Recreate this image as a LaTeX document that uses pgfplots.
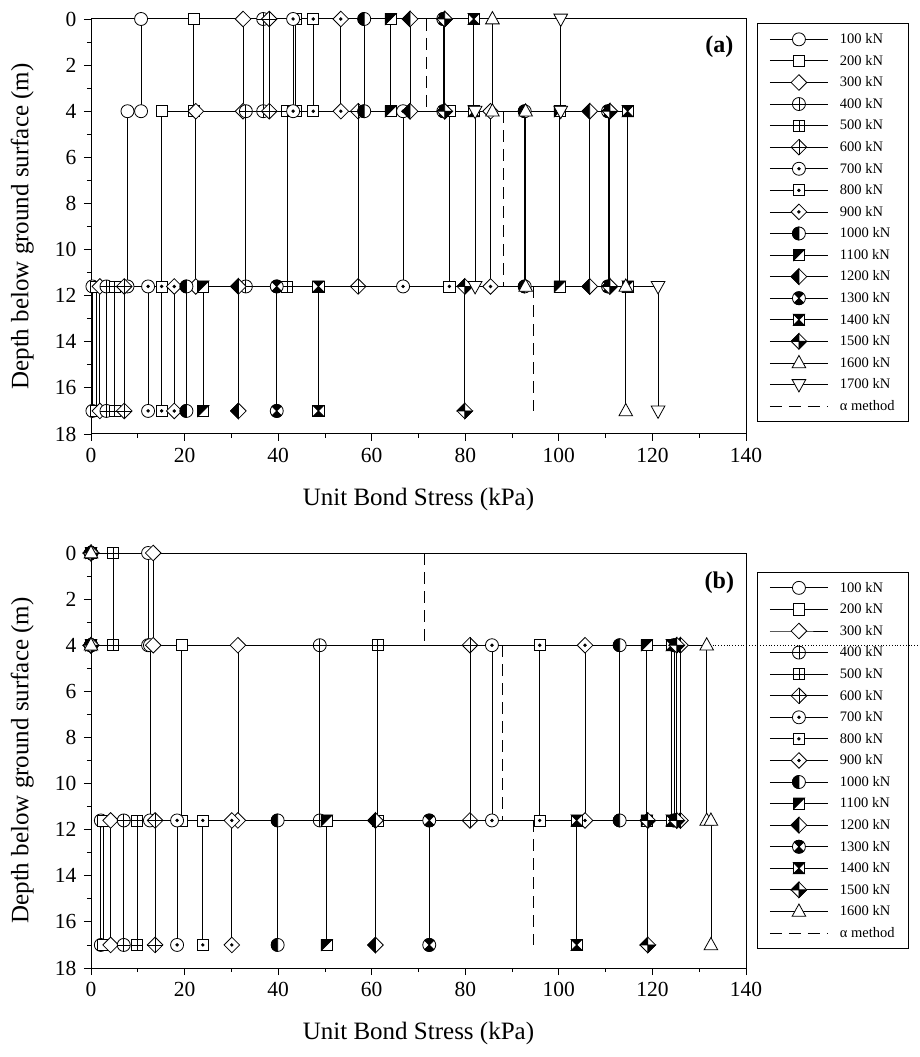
\documentclass[border=0pt]{standalone}
\usepackage{fontspec}
\setmainfont{Liberation Serif}
\usepackage{pgfplots}
\pgfplotsset{compat=1.18}

\newcommand{\mkcircle}{\pgfpathcircle{\pgfpointorigin}{\pgfplotmarksize}}
\newcommand{\mksquare}{\pgfpathrectangle{\pgfpoint{-0.85\pgfplotmarksize}{-0.85\pgfplotmarksize}}{\pgfpoint{1.7\pgfplotmarksize}{1.7\pgfplotmarksize}}}
\newcommand{\mkdiamond}{\pgfpathmoveto{\pgfpoint{0pt}{1.2\pgfplotmarksize}}\pgfpathlineto{\pgfpoint{1.2\pgfplotmarksize}{0pt}}\pgfpathlineto{\pgfpoint{0pt}{-1.2\pgfplotmarksize}}\pgfpathlineto{\pgfpoint{-1.2\pgfplotmarksize}{0pt}}\pgfpathclose}
\newcommand{\mkplus}[1]{\pgfpathmoveto{\pgfpoint{-#1\pgfplotmarksize}{0pt}}\pgfpathlineto{\pgfpoint{#1\pgfplotmarksize}{0pt}}\pgfpathmoveto{\pgfpoint{0pt}{-#1\pgfplotmarksize}}\pgfpathlineto{\pgfpoint{0pt}{#1\pgfplotmarksize}}\pgfusepathqstroke}
\newcommand{\blk}[1]{\pgfscope\pgfsetfillcolor{black}#1\pgfusepathqfillstroke\endpgfscope}
\newcommand{\mkdot}{\blk{\pgfpathcircle{\pgfpointorigin}{0.2\pgfplotmarksize}}}

\pgfdeclareplotmark{m100}{\mkcircle\pgfusepathqfillstroke}
\pgfdeclareplotmark{m200}{\mksquare\pgfusepathqfillstroke}
\pgfdeclareplotmark{m300}{\mkdiamond\pgfusepathqfillstroke}
\pgfdeclareplotmark{m400}{\mkcircle\pgfusepathqfillstroke\mkplus{1}}
\pgfdeclareplotmark{m500}{\mksquare\pgfusepathqfillstroke\mkplus{0.85}}
\pgfdeclareplotmark{m600}{\mkdiamond\pgfusepathqfillstroke\mkplus{1.2}}
\pgfdeclareplotmark{m700}{\mkcircle\pgfusepathqfillstroke\mkdot}
\pgfdeclareplotmark{m800}{\mksquare\pgfusepathqfillstroke\mkdot}
\pgfdeclareplotmark{m900}{\mkdiamond\pgfusepathqfillstroke\mkdot}
\pgfdeclareplotmark{m1000}{\mkcircle\pgfusepathqfillstroke
  \blk{\pgfpathmoveto{\pgfpoint{0pt}{\pgfplotmarksize}}\pgfpatharc{90}{270}{\pgfplotmarksize}\pgfpathclose}}
\pgfdeclareplotmark{m1100}{\mksquare\pgfusepathqfillstroke
  \blk{\pgfpathmoveto{\pgfpoint{0.85\pgfplotmarksize}{0.85\pgfplotmarksize}}\pgfpathlineto{\pgfpoint{-0.85\pgfplotmarksize}{-0.85\pgfplotmarksize}}\pgfpathlineto{\pgfpoint{-0.85\pgfplotmarksize}{0.85\pgfplotmarksize}}\pgfpathclose}}
\pgfdeclareplotmark{m1200}{\mkdiamond\pgfusepathqfillstroke
  \blk{\pgfpathmoveto{\pgfpoint{0pt}{1.2\pgfplotmarksize}}\pgfpathlineto{\pgfpoint{-1.2\pgfplotmarksize}{0pt}}\pgfpathlineto{\pgfpoint{0pt}{-1.2\pgfplotmarksize}}\pgfpathclose}}
\pgfdeclareplotmark{m1300}{\mkcircle\pgfusepathqfillstroke
  \blk{\pgfpathmoveto{\pgfpointorigin}\pgfpathlineto{\pgfpointpolar{45}{\pgfplotmarksize}}\pgfpatharc{45}{135}{\pgfplotmarksize}\pgfpathclose
       \pgfpathmoveto{\pgfpointorigin}\pgfpathlineto{\pgfpointpolar{225}{\pgfplotmarksize}}\pgfpatharc{225}{315}{\pgfplotmarksize}\pgfpathclose}}
\pgfdeclareplotmark{m1400}{\mksquare\pgfusepathqfillstroke
  \blk{\pgfpathmoveto{\pgfpointorigin}\pgfpathlineto{\pgfpoint{-0.85\pgfplotmarksize}{0.85\pgfplotmarksize}}\pgfpathlineto{\pgfpoint{0.85\pgfplotmarksize}{0.85\pgfplotmarksize}}\pgfpathclose
       \pgfpathmoveto{\pgfpointorigin}\pgfpathlineto{\pgfpoint{-0.85\pgfplotmarksize}{-0.85\pgfplotmarksize}}\pgfpathlineto{\pgfpoint{0.85\pgfplotmarksize}{-0.85\pgfplotmarksize}}\pgfpathclose}}
\pgfdeclareplotmark{m1500}{\mkdiamond\pgfusepathqfillstroke
  \blk{\pgfpathmoveto{\pgfpointorigin}\pgfpathlineto{\pgfpoint{0pt}{1.2\pgfplotmarksize}}\pgfpathlineto{\pgfpoint{-1.2\pgfplotmarksize}{0pt}}\pgfpathclose
       \pgfpathmoveto{\pgfpointorigin}\pgfpathlineto{\pgfpoint{0pt}{-1.2\pgfplotmarksize}}\pgfpathlineto{\pgfpoint{1.2\pgfplotmarksize}{0pt}}\pgfpathclose}}
\pgfdeclareplotmark{m1600}{\pgfpathmoveto{\pgfpoint{0pt}{1.15\pgfplotmarksize}}\pgfpathlineto{\pgfpoint{1.05\pgfplotmarksize}{-0.75\pgfplotmarksize}}\pgfpathlineto{\pgfpoint{-1.05\pgfplotmarksize}{-0.75\pgfplotmarksize}}\pgfpathclose\pgfusepathqfillstroke}
\pgfdeclareplotmark{m1700}{\pgfpathmoveto{\pgfpoint{0pt}{-1.15\pgfplotmarksize}}\pgfpathlineto{\pgfpoint{1.05\pgfplotmarksize}{0.75\pgfplotmarksize}}\pgfpathlineto{\pgfpoint{-1.05\pgfplotmarksize}{0.75\pgfplotmarksize}}\pgfpathclose\pgfusepathqfillstroke}

\pgfplotsset{
 panel/.style={
  scale only axis, width=655pt, height=415pt,
  xmin=0, xmax=140, ymin=0, ymax=18, y dir=reverse,
  xtick={0,20,...,140}, ytick={0,2,...,18},
  minor x tick num=1, minor y tick num=1,
  tick align=outside, tick pos=left,
  major tick length=7pt, minor tick length=4pt,
  every tick/.style={black, line width=0.8pt},
  axis line style={line width=1pt},
  tick label style={font=\fontsize{21.5}{24}\selectfont},
  xticklabel style={yshift=-4pt},
  yticklabel style={xshift=-4pt},
  every axis x label/.style={at={(0.5,-0.157)}, anchor=center, font=\fontsize{25}{29}\selectfont},
  every axis y label/.style={at={(-0.105,0.5)}, anchor=center, rotate=90, font=\fontsize{25}{29}\selectfont},
  /pgf/number format/assume math mode=true,
  xlabel={Unit Bond Stress (kPa)}, ylabel={Depth below ground surface (m)},
  clip=false,
  legend cell align=left,
  legend style={anchor=north west, draw=black, fill=none, font=\fontsize{14.5}{16}\selectfont,
     row sep=6pt, inner xsep=12pt, inner ysep=8pt, line width=0.8pt},
  legend image code/.code={\draw[mark repeat=2,mark phase=2] plot coordinates {(0pt,0pt) (29pt,0pt) (58pt,0pt)};\path[draw=none,fill=none] (0pt,0pt) rectangle (68pt,0.1pt);},
  every axis plot/.append style={black, line width=0.8pt, mark size=6.5pt, mark options={fill=white, solid}},
 },
 alpha/.style={black, line width=0.8pt, dash pattern=on 12pt off 7pt, mark=none},
}

\begin{document}
\begin{tikzpicture}
\path[use as bounding box] (0pt,0pt) rectangle (920pt,1057pt);

% ---------------- panel (a)
\begin{axis}[panel, at={(91pt,623pt)}, anchor=south west,
  legend style={at={(1.017,0.99)}}]
\addplot[mark=m100] coordinates {(10.7,0) (10.7,4) (7.8,4) (7.8,11.6) (0.3,11.6) (0.3,17)};
\addlegendentry{100 kN}
\addplot[mark=m200] coordinates {(21.9,0) (21.9,4) (15.1,4) (15.1,11.6) (1.1,11.6) (1.1,17)};
\addlegendentry{200 kN}
\addplot[mark=m300] coordinates {(32.5,0) (32.5,4) (22.4,4) (22.4,11.6) (1.9,11.6) (1.9,17)};
\addlegendentry{300 kN}
\addplot[mark=m400] coordinates {(36.8,0) (36.8,4) (33.1,4) (33.1,11.6) (3.3,11.6) (3.3,17)};
\addlegendentry{400 kN}
\addplot[mark=m500] coordinates {(43.7,0) (43.7,4) (41.9,4) (41.9,11.6) (5.1,11.6) (5.1,17)};
\addlegendentry{500 kN}
\addplot[mark=m600] coordinates {(38.1,0) (38.1,4) (57.1,4) (57.1,11.6) (7.1,11.6) (7.1,17)};
\addlegendentry{600 kN}
\addplot[mark=m700] coordinates {(43.2,0) (43.2,4) (66.7,4) (66.7,11.6) (12.2,11.6) (12.2,17)};
\addlegendentry{700 kN}
\addplot[mark=m800] coordinates {(47.5,0) (47.5,4) (76.6,4) (76.6,11.6) (15.1,11.6) (15.1,17)};
\addlegendentry{800 kN}
\addplot[mark=m900] coordinates {(53.4,0) (53.4,4) (85.4,4) (85.4,11.6) (17.8,11.6) (17.8,17)};
\addlegendentry{900 kN}
\addplot[mark=m1000] coordinates {(58.4,0) (58.4,4) (92.7,4) (92.7,11.6) (20.4,11.6) (20.4,17)};
\addlegendentry{1000 kN}
\addplot[mark=m1100] coordinates {(64.1,0) (64.1,4) (100.2,4) (100.2,11.6) (24.0,11.6) (24.0,17)};
\addlegendentry{1100 kN}
\addplot[mark=m1200] coordinates {(68.2,0) (68.2,4) (106.6,4) (106.6,11.6) (31.5,11.6) (31.5,17)};
\addlegendentry{1200 kN}
\addplot[mark=m1300] coordinates {(75.3,0) (75.3,4) (110.5,4) (110.5,11.6) (39.7,11.6) (39.7,17)};
\addlegendentry{1300 kN}
\addplot[mark=m1400] coordinates {(81.8,0) (81.8,4) (114.7,4) (114.7,11.6) (48.6,11.6) (48.6,17)};
\addlegendentry{1400 kN}
\addplot[mark=m1500] coordinates {(75.6,0) (75.6,4) (110.9,4) (110.9,11.6) (79.9,11.6) (79.9,17)};
\addlegendentry{1500 kN}
\addplot[mark=m1600] coordinates {(85.8,0) (85.8,4) (92.9,4) (92.9,11.6) (114.3,11.6) (114.3,17)};
\addlegendentry{1600 kN}
\addplot[mark=m1700] coordinates {(100.4,0) (100.4,4) (82.1,4) (82.1,11.6) (121.2,11.6) (121.2,17)};
\addlegendentry{1700 kN}
\addplot[alpha] coordinates {(71.7,0) (71.7,4)};
\addlegendentry{α method}
\addplot[alpha, forget plot] coordinates {(88.1,4) (88.1,11.6)};
\addplot[alpha, forget plot] coordinates {(94.5,11.6) (94.5,17)};
\node[font=\bfseries\fontsize{24}{28}\selectfont] at (axis cs:134.3,1.2) {(a)};
\end{axis}

% ---------------- panel (b)
\begin{axis}[panel, at={(91pt,89pt)}, anchor=south west,
  legend style={at={(1.017,0.955)}}]
\draw[dotted, line width=0.8pt] (axis cs:0,4) -- (axis cs:179,4);
\addplot[mark=m100] coordinates {(12.2,0) (12.2,4) (12.6,4) (12.6,11.6) (2.1,11.6) (2.1,17)};
\addlegendentry{100 kN}
\addplot[mark=m200] coordinates {(4.7,0) (4.7,4) (19.4,4) (19.4,11.6) (2.6,11.6) (2.6,17)};
\addlegendentry{200 kN}
\addplot[mark=m300] coordinates {(13.3,0) (13.3,4) (31.4,4) (31.4,11.6) (4.2,11.6) (4.2,17)};
\addlegendentry{300 kN}
\addplot[mark=m400] coordinates {(0,0) (0,4) (48.9,4) (48.9,11.6) (7.0,11.6) (7.0,17)};
\addlegendentry{400 kN}
\addplot[mark=m500] coordinates {(4.7,0) (4.7,4) (61.3,4) (61.3,11.6) (9.9,11.6) (9.9,17)};
\addlegendentry{500 kN}
\addplot[mark=m600] coordinates {(0,0) (0,4) (81.0,4) (81.0,11.6) (13.7,11.6) (13.7,17)};
\addlegendentry{600 kN}
\addplot[mark=m700] coordinates {(0,0) (0,4) (85.7,4) (85.7,11.6) (18.4,11.6) (18.4,17)};
\addlegendentry{700 kN}
\addplot[mark=m800] coordinates {(0,0) (0,4) (95.9,4) (95.9,11.6) (23.9,11.6) (23.9,17)};
\addlegendentry{800 kN}
\addplot[mark=m900] coordinates {(0,0) (0,4) (105.6,4) (105.6,11.6) (30.1,11.6) (30.1,17)};
\addlegendentry{900 kN}
\addplot[mark=m1000] coordinates {(0,0) (0,4) (113.0,4) (113.0,11.6) (39.9,11.6) (39.9,17)};
\addlegendentry{1000 kN}
\addplot[mark=m1100] coordinates {(0,0) (0,4) (118.8,4) (118.8,11.6) (50.4,11.6) (50.4,17)};
\addlegendentry{1100 kN}
\addplot[mark=m1200] coordinates {(0,0) (0,4) (126.0,4) (126.0,11.6) (60.8,11.6) (60.8,17)};
\addlegendentry{1200 kN}
\addplot[mark=m1300] coordinates {(0,0) (0,4) (124.6,4) (124.6,11.6) (72.3,11.6) (72.3,17)};
\addlegendentry{1300 kN}
\addplot[mark=m1400] coordinates {(0,0) (0,4) (124.1,4) (124.1,11.6) (103.8,11.6) (103.8,17)};
\addlegendentry{1400 kN}
\addplot[mark=m1500] coordinates {(0,0) (0,4) (125.2,4) (125.2,11.6) (119.0,11.6) (119.0,17)};
\addlegendentry{1500 kN}
\addplot[mark=m1600] coordinates {(0,0) (0,4) (131.6,4) (131.6,11.6) (132.5,11.6) (132.5,17)};
\addlegendentry{1600 kN}
\addplot[alpha] coordinates {(71.3,0) (71.3,4)};
\addlegendentry{α method}
\addplot[alpha, forget plot] coordinates {(88.0,4) (88.0,11.6)};
\addplot[alpha, forget plot] coordinates {(94.5,11.6) (94.5,17)};
\node[font=\bfseries\fontsize{24}{28}\selectfont] at (axis cs:134.3,1.3) {(b)};
\end{axis}
\end{tikzpicture}
\end{document}
